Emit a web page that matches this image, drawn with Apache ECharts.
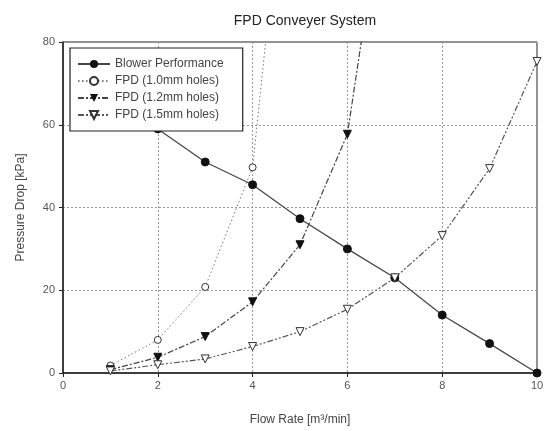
<!DOCTYPE html>
<html><head><meta charset="utf-8">
<script src="https://cdn.jsdelivr.net/npm/echarts@6/dist/echarts.min.js"></script>
<style>html,body{margin:0;padding:0;background:#fff}#c{width:548px;height:431px}</style>
</head><body><div id="c"></div>
<script>
const flowRate = [1, 2, 3, 4, 5, 6, 7, 8, 9, 10];
const blower = [66, 59, 51, 45.5, 37.3, 30, 23, 14, 7.1, 0];
const fpd10 = [1.8, 8, 20.8, 49.7, 160];
const fpd12 = [0.8, 3.8, 8.8, 17.2, 31, 57.7, 134];
const fpd15 = [0.5, 2, 3.4, 6.4, 10, 15.4, 23, 33.2, 49.4, 75.3];
const names = ['Blower Performance', 'FPD (1.0mm holes)', 'FPD (1.2mm holes)', 'FPD (1.5mm holes)'];
const xTicks = [0, 2, 4, 6, 8, 10];
const yTicks = [0, 20, 40, 60, 80];

const pair = arr => arr.map((v, i) => [flowRate[i], v]);
const font = 'Liberation Sans, Arial, sans-serif';
const chart = echarts.init(document.getElementById('c'), null, {renderer: 'canvas'});
chart.setOption({
  animation: false,
  title: {text: 'FPD Conveyer System', left: 300, top: 9, textAlign: 'center',
    textStyle: {fontFamily: font, fontSize: 14, fontWeight: 'normal', color: '#222'}},
  grid: {left: 63, right: 11, top: 42, bottom: 56, show: true, borderColor: '#222', borderWidth: 1},
  legend: {
    orient: 'vertical', left: 70, top: 48, z: 10,
    padding: [10, 19, 10, 7], itemGap: 5, itemWidth: 32, itemHeight: 10,
    backgroundColor: '#fff', borderColor: '#222', borderWidth: 1.2,
    textStyle: {fontFamily: font, fontSize: 12, color: '#444'},
    data: names
  },
  xAxis: {
    type: 'value', min: xTicks[0], max: xTicks[xTicks.length - 1], interval: 2,
    name: 'Flow Rate [m³/min]', nameLocation: 'middle', nameGap: 41,
    nameTextStyle: {fontFamily: font, fontSize: 12, color: '#444'},
    axisLine: {lineStyle: {color: '#222', width: 1.5}},
    axisTick: {show: true, inside: false, length: 4, lineStyle: {color: '#222'}},
    axisLabel: {fontFamily: font, fontSize: 11, color: '#555', margin: 7},
    splitLine: {show: true, lineStyle: {color: '#999', type: [2, 2], width: 1}}
  },
  yAxis: {
    type: 'value', min: yTicks[0], max: yTicks[yTicks.length - 1], interval: 20,
    name: 'Pressure Drop [kPa]', nameLocation: 'middle', nameGap: 36,
    nameTextStyle: {fontFamily: font, fontSize: 12, color: '#444'},
    axisLine: {show: true, lineStyle: {color: '#222', width: 1.5}},
    axisTick: {show: true, inside: false, length: 4, lineStyle: {color: '#222'}},
    axisLabel: {fontFamily: font, fontSize: 11, color: '#555', margin: 8},
    splitLine: {show: true, lineStyle: {color: '#999', type: [2, 2], width: 1}}
  },
  series: [
    {name: names[0], type: 'line', data: pair(blower), symbol: 'circle', symbolSize: 8,
      itemStyle: {color: '#111', borderColor: '#111'},
      lineStyle: {color: '#444', width: 1.2, type: 'solid'}},
    {name: names[1], type: 'line', data: pair(fpd10), symbol: 'circle', symbolSize: 7,
      itemStyle: {color: '#fff', borderColor: '#333', borderWidth: 1},
      lineStyle: {color: '#777', width: 1, type: [1.5, 2.5]}},
    {name: names[2], type: 'line', data: pair(fpd12), symbol: 'triangle', symbolRotate: 180, symbolSize: 8,
      itemStyle: {color: '#111', borderColor: '#111'},
      lineStyle: {color: '#444', width: 1.2, type: [6, 2, 2, 2]}},
    {name: names[3], type: 'line', data: pair(fpd15), symbol: 'triangle', symbolRotate: 180, symbolSize: 8,
      itemStyle: {color: '#fff', borderColor: '#333', borderWidth: 1},
      lineStyle: {color: '#555', width: 1.2, type: [6, 2, 2, 2, 2, 2]}}
  ]
});
</script></body></html>
